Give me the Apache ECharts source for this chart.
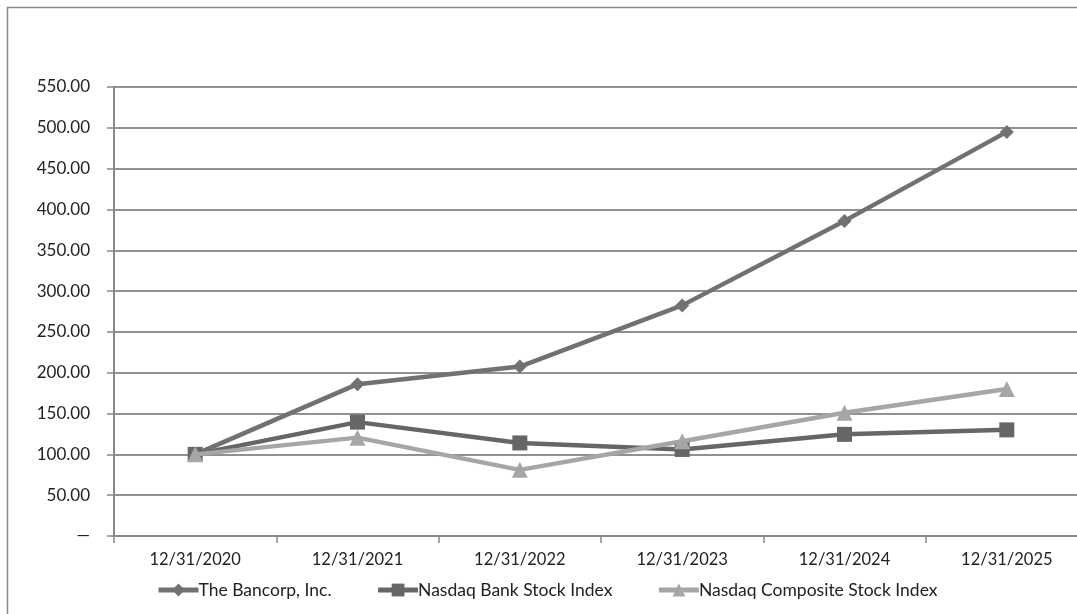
<!DOCTYPE html>
<html>
<head>
<meta charset="utf-8">
<script src="https://cdn.jsdelivr.net/npm/echarts@6/dist/echarts.min.js"></script>
<style>
html,body{margin:0;padding:0;background:#fff;}
#chart{width:1077px;height:614px;}
</style>
</head>
<body>
<div id="chart"></div>
<script>
const categories = ['12/31/2020','12/31/2021','12/31/2022','12/31/2023','12/31/2024','12/31/2025'];
const bancorp = [100, 186, 207.5, 282.5, 386, 495];
const bankIndex = [100, 139.5, 114, 106, 124.5, 130];
const compositeIndex = [100, 120.5, 81, 116, 151, 180];
const seriesNames = ['The Bancorp, Inc.', 'Nasdaq Bank Stock Index', 'Nasdaq Composite Stock Index'];

const FONT = 'Lato, "Open Sans", sans-serif';
const chart = echarts.init(document.getElementById('chart'));
chart.setOption({
  animation: false,
  backgroundColor: '#fff',
  textStyle: {fontFamily: FONT},
  graphic: [{
    type: 'rect', silent: true, z: -1,
    shape: {x: 7.5, y: 7.5, width: 1100, height: 640},
    style: {fill: 'none', stroke: '#8a8a8a', lineWidth: 1.5}
  }],
  grid: {left: 114, top: 87, width: 974, height: 449, containLabel: false, outerBoundsMode: 'none'},
  legend: {
    top: 576, left: 151,
    itemWidth: 40, itemHeight: 16, itemGap: 44,
    lineStyle: {width: 5},
    textStyle: {fontFamily: FONT, fontSize: 17.5, color: '#222', padding: [0,0,0,-5]},
    data: seriesNames
  },
  xAxis: {
    type: 'category', data: categories, boundaryGap: true,
    axisLine: {lineStyle: {color: '#888', width: 2}},
    axisTick: {show: true, length: 7, lineStyle: {color: '#888', width: 1.5}},
    axisLabel: {fontFamily: FONT, fontSize: 16.5, color: '#222', margin: 15}
  },
  yAxis: {
    type: 'value', min: 0, max: 550, interval: 50,
    axisLine: {show: true, lineStyle: {color: '#888', width: 2}},
    axisTick: {show: true, length: 7, lineStyle: {color: '#888', width: 1.5}},
    splitLine: {lineStyle: {color: '#919191', width: 2}},
    axisLabel: {
      fontFamily: FONT, fontSize: 17, color: '#222', margin: 24,
      formatter: v => v === 0 ? '—' : v.toFixed(2)
    }
  },
  series: [
    {name: seriesNames[0], type: 'line', data: bancorp, symbol: 'diamond', symbolSize: 14,
     lineStyle: {color: '#717171', width: 4.5}, itemStyle: {color: '#717171'}, z: 3},
    {name: seriesNames[1], type: 'line', data: bankIndex, symbol: 'rect', symbolSize: 15,
     lineStyle: {color: '#666666', width: 4.5}, itemStyle: {color: '#666666'}, z: 4},
    {name: seriesNames[2], type: 'line', data: compositeIndex, symbol: 'triangle', symbolSize: 16,
     lineStyle: {color: '#a6a6a6', width: 4.5}, itemStyle: {color: '#a6a6a6'}, z: 5}
  ]
});
</script>
</body>
</html>
